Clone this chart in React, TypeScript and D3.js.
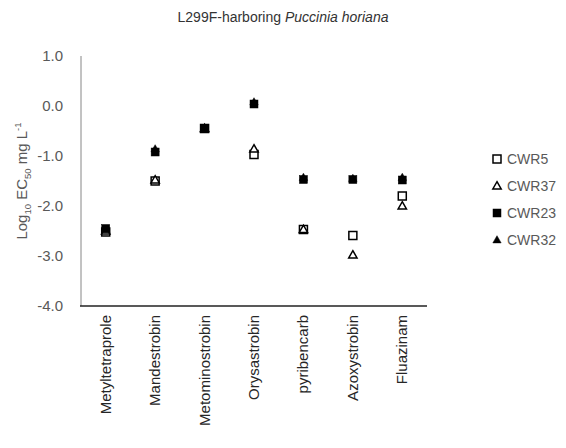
import React, { useEffect, useRef } from 'react';
import * as d3 from 'd3';

const categories = ['Metyltetraprole', 'Mandestrobin', 'Metominostrobin', 'Orysastrobin', 'pyribencarb', 'Azoxystrobin', 'Fluazinam'];
const cwr5 = [-2.52, -1.5, -0.45, -0.97, -2.47, -2.59, -1.8];
const cwr37 = [-2.5, -1.48, -0.45, -0.86, -2.47, -2.98, -2.0];
const cwr23 = [-2.45, -0.92, -0.45, 0.04, -1.47, -1.47, -1.48];
const cwr32 = [-2.47, -0.86, -0.45, 0.08, -1.43, -1.45, -1.43];
const yTicks = [1, 0, -1, -2, -3, -4];

const seriesList = [
    { name: 'CWR5', values: cwr5, shape: 'square', filled: false },
    { name: 'CWR37', values: cwr37, shape: 'triangle', filled: false },
    { name: 'CWR23', values: cwr23, shape: 'square', filled: true },
    { name: 'CWR32', values: cwr32, shape: 'triangle', filled: true },
];

const W = 566;
const H = 448;

const App: React.FC = () => {
    const svgRef = useRef<SVGSVGElement>(null);

    useEffect(() => {
        if (!svgRef.current) return;
        const svg = d3.select(svgRef.current);
        svg.selectAll('*').remove();

        const font = '"Liberation Sans", Arial, sans-serif';
        const left = 81, right = 427, top = 56, bottom = 306;

        const x = d3.scaleBand().domain(categories).range([left, right]);
        const y = d3.scaleLinear().domain([-4, 1]).range([bottom, top]);

        svg.append('rect').attr('width', W).attr('height', H).attr('fill', '#fff');

        // title
        const title = svg.append('text')
            .attr('x', 283).attr('y', 22)
            .attr('text-anchor', 'middle')
            .attr('font-family', font).attr('font-size', 14)
            .attr('fill', '#333');
        title.append('tspan').text('L299F-harboring ');
        title.append('tspan').attr('font-style', 'italic').text('Puccinia horiana');

        // y axis line
        svg.append('line')
            .attr('x1', left).attr('x2', left).attr('y1', top).attr('y2', bottom)
            .attr('stroke', '#868686').attr('stroke-width', 1);

        // x axis line
        svg.append('line')
            .attr('x1', left - 1).attr('x2', right).attr('y1', bottom).attr('y2', bottom)
            .attr('stroke', '#222').attr('stroke-width', 1.5);

        // y tick labels (plain hyphen like the source)
        svg.selectAll('.ytick')
            .data(yTicks)
            .enter()
            .append('text')
            .attr('class', 'ytick')
            .attr('x', 63)
            .attr('y', d => y(d) + 5)
            .attr('text-anchor', 'end')
            .attr('font-family', font).attr('font-size', 15)
            .attr('fill', '#595959')
            .text(d => d.toFixed(1));

        // y axis title
        const yl = svg.append('text')
            .attr('transform', `translate(27, ${(top + bottom) / 2}) rotate(-90)`)
            .attr('text-anchor', 'middle')
            .attr('font-family', font).attr('font-size', 15)
            .attr('fill', '#595959');
        yl.append('tspan').text('Log');
        yl.append('tspan').attr('font-size', 9.5).attr('dy', 4).text('10');
        yl.append('tspan').attr('dy', -4).text(' EC');
        yl.append('tspan').attr('font-size', 9.5).attr('dy', 4).text('50');
        yl.append('tspan').attr('dy', -4).text(' mg L');
        yl.append('tspan').attr('font-size', 9.5).attr('dy', -6).text('-1');

        // x labels
        svg.selectAll('.xlab')
            .data(categories)
            .enter()
            .append('text')
            .attr('class', 'xlab')
            .attr('transform', d => `translate(${(x(d) as number) + x.bandwidth() / 2 + 5}, 315) rotate(-90)`)
            .attr('text-anchor', 'end')
            .attr('font-family', font).attr('font-size', 15)
            .attr('fill', '#262626')
            .text(d => d);

        const tri = d3.symbol().type(d3.symbolTriangle).size(30);

        const drawMarker = (g: d3.Selection<SVGGElement, unknown, null, undefined>, cx: number, cy: number, shape: string, filled: boolean) => {
            if (shape === 'square') {
                g.append('rect')
                    .attr('x', cx - 4).attr('y', cy - 4)
                    .attr('width', 8).attr('height', 8)
                    .attr('fill', filled ? '#000' : '#fff')
                    .attr('stroke', '#000').attr('stroke-width', filled ? 0.5 : 1.5);
            } else {
                g.append('path')
                    .attr('d', tri() as string)
                    .attr('transform', `translate(${cx}, ${cy + 0.5})`)
                    .attr('fill', filled ? '#000' : '#fff')
                    .attr('stroke', '#000').attr('stroke-width', filled ? 0.5 : 1.5);
            }
        };

        // points
        seriesList.forEach(s => {
            const g = svg.append('g');
            s.values.forEach((v, i) => {
                const cx = (x(categories[i]) as number) + x.bandwidth() / 2;
                drawMarker(g, cx, y(v), s.shape, s.filled);
            });
        });

        // legend
        seriesList.forEach((s, i) => {
            const ly = 159 + i * 27;
            const g = svg.append('g');
            drawMarker(g, 497, ly, s.shape, s.filled);
            g.append('text')
                .attr('x', 507).attr('y', ly + 5)
                .attr('font-family', font).attr('font-size', 14)
                .attr('fill', '#595959')
                .text(s.name);
        });
    }, []);

    return <svg ref={svgRef} width={W} height={H} style={{ display: 'block', margin: -8 }}></svg>;
};

export default App;
